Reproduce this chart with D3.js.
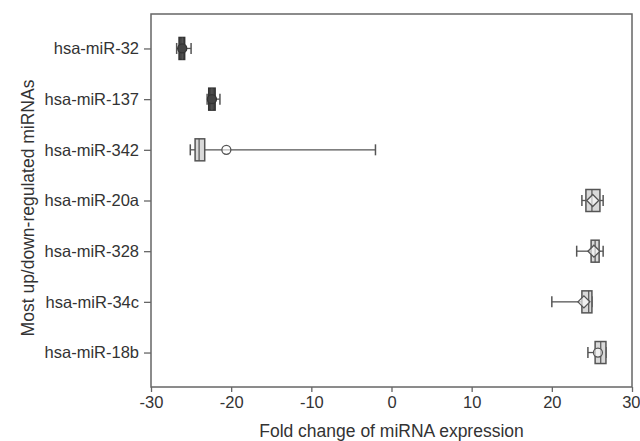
<!DOCTYPE html>
<html><head><meta charset="utf-8">
<script src="https://cdn.jsdelivr.net/npm/d3@7"></script>
<style>
body{margin:0;background:#fff;}
text{font-family:"Liberation Sans",Arial,sans-serif;fill:#333;}
</style></head>
<body><svg id="c" width="640" height="441"></svg>
<script>
const categories = ["hsa-miR-32","hsa-miR-137","hsa-miR-342","hsa-miR-20a","hsa-miR-328","hsa-miR-34c","hsa-miR-18b"];
const whiskerLow  = [-26.8, -23.0, -25.1, 23.75, 23.1, 20.0, 24.5];
const q1          = [-26.5, -22.8, -24.5, 24.25, 24.9, 23.75, 25.4];
const median      = [-26.1, -22.4, -24.0, 25.0, 25.4, 24.6, 26.1];
const q3          = [-25.8, -22.0, -23.3, 26.0, 25.9, 25.0, 26.75];
const whiskerHigh = [-25.0, -21.4, -2.0, 26.4, 26.4, 25.0, 26.75];
const means       = [-26.1, -22.4, -20.6, 25.1, 25.25, 24.0, 25.75];
const meanShape   = ["circle","circle","circle","diamond","diamond","diamond","circle"];
const xTicks = [-30,-20,-10,0,10,20,30];
const xTitle = "Fold change of miRNA expression";
const yTitle = "Most up/down-regulated miRNAs";

const svg = d3.select("#c");
const L=151, R=632, T=14, B=387;
const x = d3.scaleLinear().domain([-30,30]).range([L,R]);
const y = d3.scalePoint().domain(categories).range([T,B]).padding(0.68);
const axisColor="#666";

svg.append("rect").attr("x",L).attr("y",T).attr("width",R-L).attr("height",B-T)
  .attr("fill","none").attr("stroke",axisColor).attr("stroke-width",1.5);

const xa = svg.append("g").attr("transform",`translate(0,${B})`)
  .call(d3.axisBottom(x).tickValues(xTicks).tickFormat(d=>String(d)).tickSize(5).tickPadding(4).tickSizeOuter(0));
const ya = svg.append("g").attr("transform",`translate(${L},0)`)
  .call(d3.axisLeft(y).tickSize(7).tickPadding(5).tickSizeOuter(0));
[xa,ya].forEach(g=>{
  g.select(".domain").remove();
  g.selectAll(".tick line").attr("stroke",axisColor).attr("stroke-width",1.3);
  g.selectAll(".tick text").attr("fill","#333").style("font-size","16.5px").style("font-family","Liberation Sans, Arial, sans-serif");
});
// keep the last x label inside the canvas
xa.selectAll(".tick text").filter(d=>d===xTicks[xTicks.length-1]).attr("text-anchor","end").attr("x",8);

svg.append("text").attr("x",(L+R)/2).attr("y",437).attr("text-anchor","middle")
  .style("font-size","17.5px").text(xTitle);
svg.append("text").attr("transform","translate(34,208) rotate(-90)").attr("text-anchor","middle")
  .style("font-size","17.5px").text(yTitle);

const stroke="#555", bh=22, cap=11;
const g = svg.append("g");
categories.forEach((c,i)=>{
  const cy=y(c);
  const gg=g.append("g");
  gg.append("line").attr("x1",x(whiskerLow[i])).attr("x2",x(q1[i])).attr("y1",cy).attr("y2",cy).attr("stroke",stroke).attr("stroke-width",1.3);
  gg.append("line").attr("x1",x(q3[i])).attr("x2",x(whiskerHigh[i])).attr("y1",cy).attr("y2",cy).attr("stroke",stroke).attr("stroke-width",1.3);
  [whiskerLow[i],whiskerHigh[i]].forEach(v=>{
    gg.append("line").attr("x1",x(v)).attr("x2",x(v)).attr("y1",cy-cap/2).attr("y2",cy+cap/2).attr("stroke",stroke).attr("stroke-width",1.5);
  });
  const w = x(q3[i])-x(q1[i]);
  const narrow = w < 8;
  gg.append("rect").attr("x",x(q1[i])).attr("y",cy-bh/2).attr("width",w).attr("height",bh)
    .attr("fill",narrow?"#444":"#d9d9d9").attr("stroke",narrow?"#333":stroke).attr("stroke-width",1.5);
  gg.append("line").attr("x1",x(median[i])).attr("x2",x(median[i])).attr("y1",cy-bh/2).attr("y2",cy+bh/2).attr("stroke",stroke).attr("stroke-width",1.2);
  const mx=x(means[i]);
  if(meanShape[i]==="circle"){
    gg.append("circle").attr("cx",mx).attr("cy",cy).attr("r",4.5)
      .attr("fill",narrow?"#444":"#fff").attr("fill-opacity",narrow?1:0.6).attr("stroke",narrow?"#333":stroke).attr("stroke-width",1.3);
  } else {
    const s=6;
    gg.append("path").attr("d",`M${mx-s},${cy}L${mx},${cy-s}L${mx+s},${cy}L${mx},${cy+s}Z`).attr("fill","#fff").attr("fill-opacity",0.6).attr("stroke",stroke).attr("stroke-width",1.3);
  }
});
</script></body></html>
